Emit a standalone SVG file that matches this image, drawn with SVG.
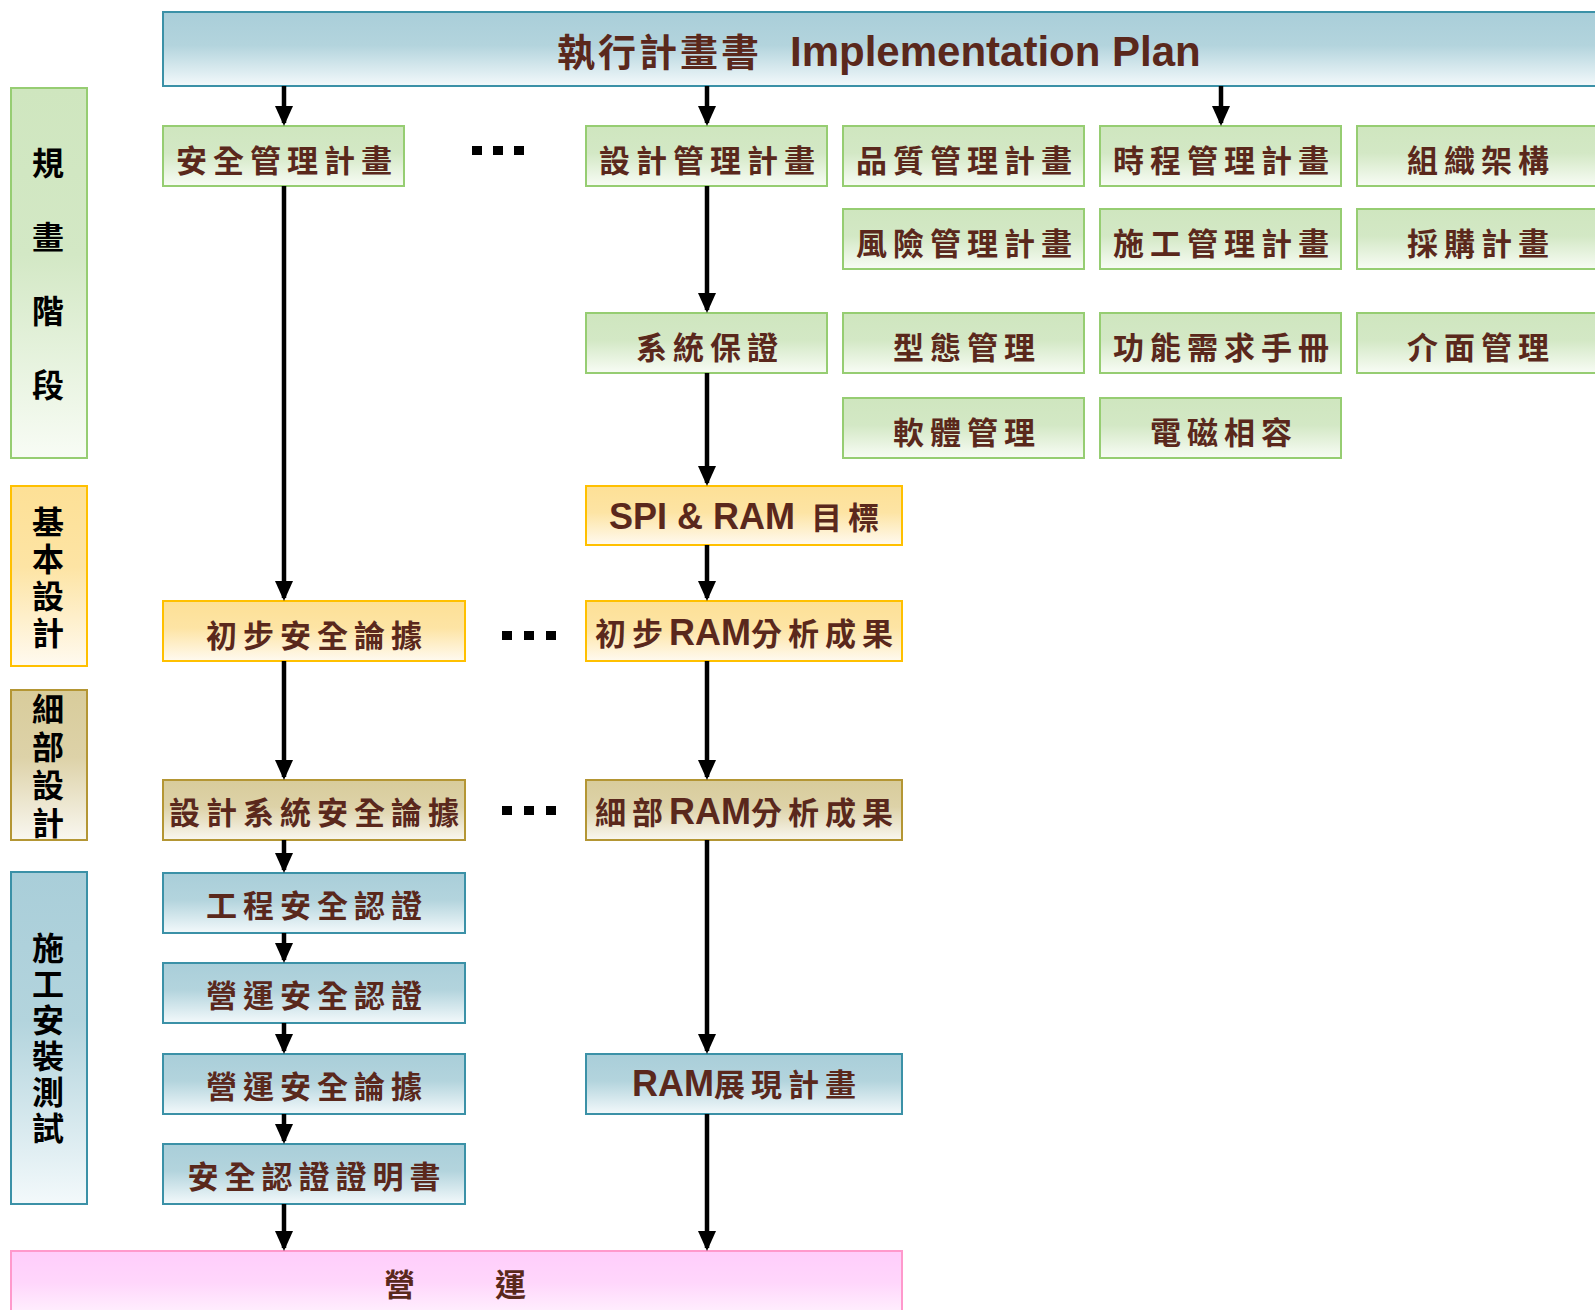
<svg xmlns="http://www.w3.org/2000/svg" width="1595" height="1310" viewBox="0 0 1595 1310">
  <defs>
    <linearGradient id="gGreen" x1="0" y1="0" x2="0" y2="1">
      <stop offset="0" stop-color="#cfe6bf"/>
      <stop offset="0.45" stop-color="#d3e8c5"/>
      <stop offset="1" stop-color="#f8fcf5"/>
    </linearGradient>
    <linearGradient id="gOrange" x1="0" y1="0" x2="0" y2="1">
      <stop offset="0" stop-color="#fde096"/>
      <stop offset="0.45" stop-color="#fde4a4"/>
      <stop offset="1" stop-color="#fffaf0"/>
    </linearGradient>
    <linearGradient id="gTan" x1="0" y1="0" x2="0" y2="1">
      <stop offset="0" stop-color="#d8cc9b"/>
      <stop offset="0.45" stop-color="#ddd2a8"/>
      <stop offset="1" stop-color="#f9f7f0"/>
    </linearGradient>
    <linearGradient id="gBlue" x1="0" y1="0" x2="0" y2="1">
      <stop offset="0" stop-color="#a9ced9"/>
      <stop offset="0.45" stop-color="#b3d4dd"/>
      <stop offset="1" stop-color="#f3f9fb"/>
    </linearGradient>
    <linearGradient id="gPink" x1="0" y1="0" x2="0" y2="1">
      <stop offset="0" stop-color="#ffcdfb"/>
      <stop offset="0.45" stop-color="#ffd6fb"/>
      <stop offset="1" stop-color="#fff6fe"/>
    </linearGradient>
    <marker id="ah" markerUnits="userSpaceOnUse" markerWidth="21" markerHeight="18" refX="17" refY="9" orient="auto">
      <path d="M0,0 L20,9 L0,18 Z" fill="#000"/>
    </marker>
    <style>
      .green  { fill: url(#gGreen);  stroke: #96cd72; stroke-width: 2; }
      .orange { fill: url(#gOrange); stroke: #ffc000; stroke-width: 2; }
      .tan    { fill: url(#gTan);    stroke: #b49634; stroke-width: 2; }
      .blue   { fill: url(#gBlue);   stroke: #3b91a7; stroke-width: 2; }
      .pink   { fill: url(#gPink);   stroke: #ff99cc; stroke-width: 2; }
      .lbl { font-family: "Liberation Sans", "Noto Sans CJK TC", sans-serif; font-size: 31px; font-weight: 700; fill: #5a281c; letter-spacing: 6px; text-anchor: middle; }
      .en  { font-family: "Liberation Sans", sans-serif; font-size: 36px; font-weight: 700; letter-spacing: 0; }
      .phase { font-family: "Noto Sans CJK TC", sans-serif; font-size: 32px; font-weight: 700; fill: #000; writing-mode: vertical-rl; text-orientation: upright; }
      .title { font-family: "Liberation Sans", "Noto Sans CJK TC", sans-serif; font-weight: 700; fill: #5a281c; }
      .conn { stroke: #000; stroke-width: 4.5; fill: none; marker-end: url(#ah); }
      .dot { fill: #000; }
    </style>
  </defs>

  <rect width="1595" height="1310" fill="#fff"/>

  <!-- phase bands on the left (labels written top to bottom) -->
  <g id="phase-planning">
    <rect class="green" x="11" y="88" width="76" height="370"/>
    <text class="phase" x="48" y="147" letter-spacing="42">規畫階段</text>
  </g>
  <g id="phase-basic">
    <rect class="orange" x="11" y="486" width="76" height="180"/>
    <text class="phase" x="48" y="506" letter-spacing="5">基本設計</text>
  </g>
  <g id="phase-detail">
    <rect class="tan" x="11" y="690" width="76" height="150"/>
    <text class="phase" x="48" y="693" letter-spacing="6">細部設計</text>
  </g>
  <g id="phase-construction">
    <rect class="blue" x="11" y="872" width="76" height="332"/>
    <text class="phase" x="48" y="932" letter-spacing="4">施工安裝測試</text>
  </g>

  <!-- header -->
  <g id="impl-plan">
    <rect class="blue" x="163" y="12" width="1440" height="74"/>
    <text class="title" y="66"><tspan x="557" font-size="38" letter-spacing="3">執行計畫書</tspan><tspan x="790" font-size="42">Implementation Plan</tspan></text>
  </g>

  <!-- planning row 1 -->
  <g id="safety-mgmt-plan">
    <rect class="green" x="163" y="126" width="241" height="60"/>
    <text class="lbl" x="287" y="172">安全管理計畫</text>
  </g>
  <g id="design-mgmt-plan">
    <rect class="green" x="586" y="126" width="241" height="60"/>
    <text class="lbl" x="710" y="172">設計管理計畫</text>
  </g>
  <g id="quality-mgmt-plan">
    <rect class="green" x="843" y="126" width="241" height="60"/>
    <text class="lbl" x="967" y="172">品質管理計畫</text>
  </g>
  <g id="schedule-mgmt-plan">
    <rect class="green" x="1100" y="126" width="241" height="60"/>
    <text class="lbl" x="1224" y="172">時程管理計畫</text>
  </g>
  <g id="organization">
    <rect class="green" x="1357" y="126" width="250" height="60"/>
    <text class="lbl" x="1481" y="172">組織架構</text>
  </g>

  <!-- planning row 2 -->
  <g id="risk-mgmt-plan">
    <rect class="green" x="843" y="209" width="241" height="60"/>
    <text class="lbl" x="967" y="255">風險管理計畫</text>
  </g>
  <g id="construction-mgmt-plan">
    <rect class="green" x="1100" y="209" width="241" height="60"/>
    <text class="lbl" x="1224" y="255">施工管理計畫</text>
  </g>
  <g id="procurement-plan">
    <rect class="green" x="1357" y="209" width="250" height="60"/>
    <text class="lbl" x="1481" y="255">採購計畫</text>
  </g>

  <!-- planning row 3 -->
  <g id="system-assurance">
    <rect class="green" x="586" y="313" width="241" height="60"/>
    <text class="lbl" x="710" y="359">系統保證</text>
  </g>
  <g id="config-mgmt">
    <rect class="green" x="843" y="313" width="241" height="60"/>
    <text class="lbl" x="967" y="359">型態管理</text>
  </g>
  <g id="func-req-manual">
    <rect class="green" x="1100" y="313" width="241" height="60"/>
    <text class="lbl" x="1224" y="359">功能需求手冊</text>
  </g>
  <g id="interface-mgmt">
    <rect class="green" x="1357" y="313" width="250" height="60"/>
    <text class="lbl" x="1481" y="359">介面管理</text>
  </g>

  <!-- planning row 4 -->
  <g id="software-mgmt">
    <rect class="green" x="843" y="398" width="241" height="60"/>
    <text class="lbl" x="967" y="444">軟體管理</text>
  </g>
  <g id="emc">
    <rect class="green" x="1100" y="398" width="241" height="60"/>
    <text class="lbl" x="1224" y="444">電磁相容</text>
  </g>

  <!-- basic design -->
  <g id="spi-ram-target">
    <rect class="orange" x="586" y="486" width="316" height="59"/>
    <text class="lbl" x="747" y="529"><tspan class="en">SPI &amp; RAM </tspan><tspan dx="6">目標</tspan></text>
  </g>
  <g id="prelim-safety-case">
    <rect class="orange" x="163" y="601" width="302" height="60"/>
    <text class="lbl" x="317" y="647">初步安全論據</text>
  </g>
  <g id="prelim-ram-analysis">
    <rect class="orange" x="586" y="601" width="316" height="60"/>
    <text class="lbl" x="747" y="645">初步<tspan class="en">RAM</tspan>分析成果</text>
  </g>

  <!-- detailed design -->
  <g id="design-safety-case">
    <rect class="tan" x="163" y="780" width="302" height="60"/>
    <text class="lbl" x="317" y="824">設計系統安全論據</text>
  </g>
  <g id="detail-ram-analysis">
    <rect class="tan" x="586" y="780" width="316" height="60"/>
    <text class="lbl" x="747" y="824">細部<tspan class="en">RAM</tspan>分析成果</text>
  </g>

  <!-- construction, installation and test -->
  <g id="eng-safety-cert">
    <rect class="blue" x="163" y="873" width="302" height="60"/>
    <text class="lbl" x="317" y="917">工程安全認證</text>
  </g>
  <g id="ops-safety-cert">
    <rect class="blue" x="163" y="963" width="302" height="60"/>
    <text class="lbl" x="317" y="1007">營運安全認證</text>
  </g>
  <g id="ops-safety-case">
    <rect class="blue" x="163" y="1054" width="302" height="60"/>
    <text class="lbl" x="317" y="1098">營運安全論據</text>
  </g>
  <g id="safety-cert-doc">
    <rect class="blue" x="163" y="1144" width="302" height="60"/>
    <text class="lbl" x="317" y="1188">安全認證證明書</text>
  </g>
  <g id="ram-demo-plan">
    <rect class="blue" x="586" y="1054" width="316" height="60"/>
    <text class="lbl" x="747" y="1096"><tspan class="en">RAM</tspan>展現計畫</text>
  </g>

  <!-- operation -->
  <g id="operation">
    <rect class="pink" x="11" y="1251" width="891" height="70"/>
    <text class="lbl" x="458" y="1296" letter-spacing="0" xml:space="preserve">營　　運</text>
  </g>

  <!-- ellipsis marks between columns -->
  <g id="ellipses">
    <rect class="dot" x="472" y="146" width="10" height="9"/>
    <rect class="dot" x="493" y="146" width="10" height="9"/>
    <rect class="dot" x="514" y="146" width="10" height="9"/>
    <rect class="dot" x="502" y="631" width="10" height="9"/>
    <rect class="dot" x="524" y="631" width="10" height="9"/>
    <rect class="dot" x="546" y="631" width="10" height="9"/>
    <rect class="dot" x="502" y="806" width="10" height="9"/>
    <rect class="dot" x="524" y="806" width="10" height="9"/>
    <rect class="dot" x="546" y="806" width="10" height="9"/>
  </g>

  <!-- connectors -->
  <g id="connectors">
    <line class="conn" x1="284" y1="86" x2="284" y2="123"/>
    <line class="conn" x1="707" y1="86" x2="707" y2="123"/>
    <line class="conn" x1="1221" y1="86" x2="1221" y2="123"/>

    <line class="conn" x1="284" y1="186" x2="284" y2="598"/>
    <line class="conn" x1="284" y1="661" x2="284" y2="777"/>
    <line class="conn" x1="284" y1="840" x2="284" y2="870"/>
    <line class="conn" x1="284" y1="933" x2="284" y2="960"/>
    <line class="conn" x1="284" y1="1023" x2="284" y2="1051"/>
    <line class="conn" x1="284" y1="1114" x2="284" y2="1141"/>
    <line class="conn" x1="284" y1="1204" x2="284" y2="1248"/>

    <line class="conn" x1="707" y1="186" x2="707" y2="310"/>
    <line class="conn" x1="707" y1="373" x2="707" y2="483"/>
    <line class="conn" x1="707" y1="545" x2="707" y2="598"/>
    <line class="conn" x1="707" y1="661" x2="707" y2="777"/>
    <line class="conn" x1="707" y1="840" x2="707" y2="1051"/>
    <line class="conn" x1="707" y1="1114" x2="707" y2="1248"/>
  </g>
</svg>
